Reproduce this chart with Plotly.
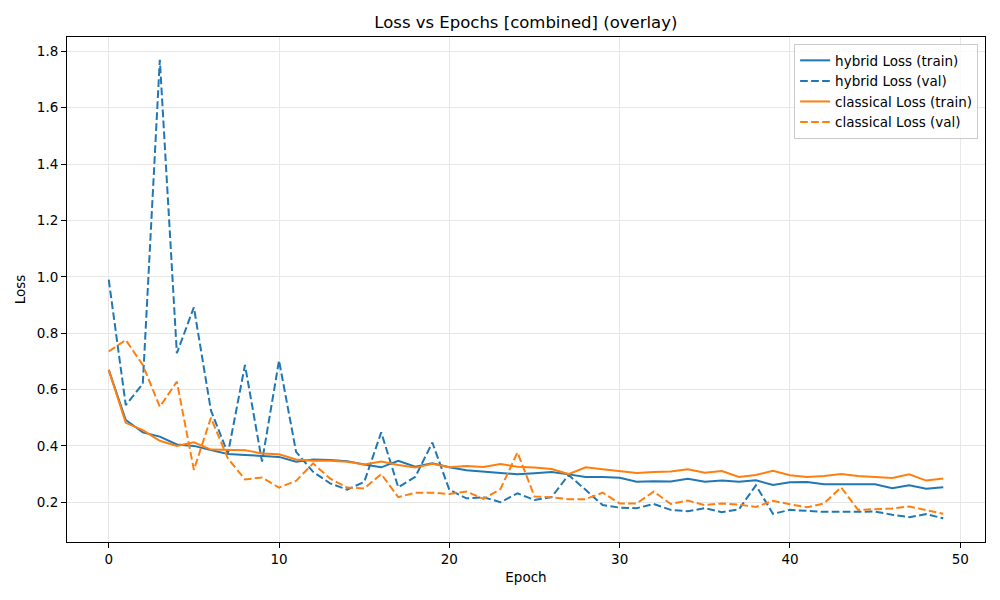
import plotly.graph_objects as go

epochs = list(range(50))

hybrid_train = [0.67, 0.492, 0.448, 0.433, 0.405, 0.40, 0.385, 0.371, 0.368, 0.364,
                0.361, 0.344, 0.352, 0.35, 0.346, 0.334, 0.324, 0.347, 0.326, 0.338,
                0.324, 0.314, 0.309, 0.303, 0.299, 0.303, 0.307, 0.299, 0.29, 0.29,
                0.287, 0.273, 0.275, 0.274, 0.283, 0.273, 0.277, 0.273, 0.278, 0.261,
                0.271, 0.272, 0.264, 0.264, 0.263, 0.264, 0.25, 0.26, 0.248, 0.253]
hybrid_val = [0.99, 0.545, 0.62, 1.77, 0.729, 0.892, 0.526, 0.373, 0.687, 0.344,
              0.703, 0.379, 0.308, 0.267, 0.245, 0.272, 0.448, 0.253, 0.29, 0.412,
              0.244, 0.214, 0.218, 0.20, 0.232, 0.208, 0.218, 0.297, 0.244, 0.19,
              0.181, 0.179, 0.194, 0.173, 0.168, 0.179, 0.165, 0.175, 0.26, 0.159,
              0.173, 0.169, 0.166, 0.166, 0.167, 0.167, 0.156, 0.147, 0.158, 0.143]
classical_train = [0.67, 0.482, 0.456, 0.418, 0.40, 0.413, 0.387, 0.385, 0.385, 0.373,
                   0.37, 0.352, 0.347, 0.347, 0.344, 0.334, 0.345, 0.332, 0.323, 0.337,
                   0.324, 0.329, 0.325, 0.336, 0.326, 0.323, 0.318, 0.30, 0.324, 0.317,
                   0.31, 0.304, 0.307, 0.309, 0.317, 0.305, 0.311, 0.29, 0.297, 0.312,
                   0.296, 0.29, 0.293, 0.30, 0.293, 0.29, 0.286, 0.299, 0.277, 0.284]
classical_val = [0.735, 0.776, 0.687, 0.539, 0.628, 0.315, 0.50, 0.355, 0.281, 0.288,
                 0.252, 0.276, 0.338, 0.284, 0.252, 0.249, 0.30, 0.218, 0.234, 0.234,
                 0.229, 0.238, 0.212, 0.247, 0.377, 0.22, 0.218, 0.211, 0.211, 0.234,
                 0.196, 0.196, 0.238, 0.194, 0.206, 0.19, 0.196, 0.192, 0.183, 0.205,
                 0.193, 0.182, 0.196, 0.253, 0.173, 0.175, 0.178, 0.185, 0.173, 0.159]

BLUE = '#1f77b4'
ORANGE = '#ff7f0e'
DASH = '7.7px,3.3px'

fig = go.Figure()
fig.add_trace(go.Scatter(x=epochs, y=hybrid_train, mode='lines', name='hybrid Loss (train)',
                         line=dict(color=BLUE, width=2)))
fig.add_trace(go.Scatter(x=epochs, y=hybrid_val, mode='lines', name='hybrid Loss (val)',
                         line=dict(color=BLUE, width=2, dash=DASH)))
fig.add_trace(go.Scatter(x=epochs, y=classical_train, mode='lines', name='classical Loss (train)',
                         line=dict(color=ORANGE, width=2)))
fig.add_trace(go.Scatter(x=epochs, y=classical_val, mode='lines', name='classical Loss (val)',
                         line=dict(color=ORANGE, width=2, dash=DASH)))

axis_style = dict(
    showline=True, linecolor='black', linewidth=1, mirror=True,
    showgrid=True, gridcolor='#e7e7e7', gridwidth=1,
    ticks='outside', ticklen=5, tickwidth=1, tickcolor='black',
    zeroline=False, automargin=False, tickfont=dict(size=13.5, color='black'),
)

fig.update_xaxes(range=[-2.45, 51.45], tickvals=[0, 10, 20, 30, 40, 50],
                 title=dict(text='Epoch', font=dict(size=13.5), standoff=6), **axis_style)
fig.update_yaxes(range=[0.059, 1.851], tickvals=[0.2, 0.4, 0.6, 0.8, 1.0, 1.2, 1.4, 1.6, 1.8],
                 tickformat='.1f',
                 title=dict(text='Loss', font=dict(size=13.5), standoff=8), **axis_style)

# the page body adds an 8px offset, so the figure is drawn 8px smaller and shifted
fig.update_layout(
    width=992, height=592,
    margin=dict(l=59, r=15, t=29, b=58),
    title=dict(text='Loss vs Epochs [combined] (overlay)', x=0.522, xanchor='center',
               y=1 - 14 / 592, yanchor='middle', font=dict(size=16.5, color='black')),
    font=dict(family='DejaVu Sans', color='black'),
    plot_bgcolor='white', paper_bgcolor='white',
    showlegend=True,
    legend=dict(x=0.9925, xanchor='right', y=0.986, yanchor='top',
                bgcolor='rgba(255,255,255,0.8)', bordercolor='#cccccc', borderwidth=1,
                font=dict(size=13.5), tracegroupgap=0, itemwidth=30),
)

fig.write_html("out.html")
